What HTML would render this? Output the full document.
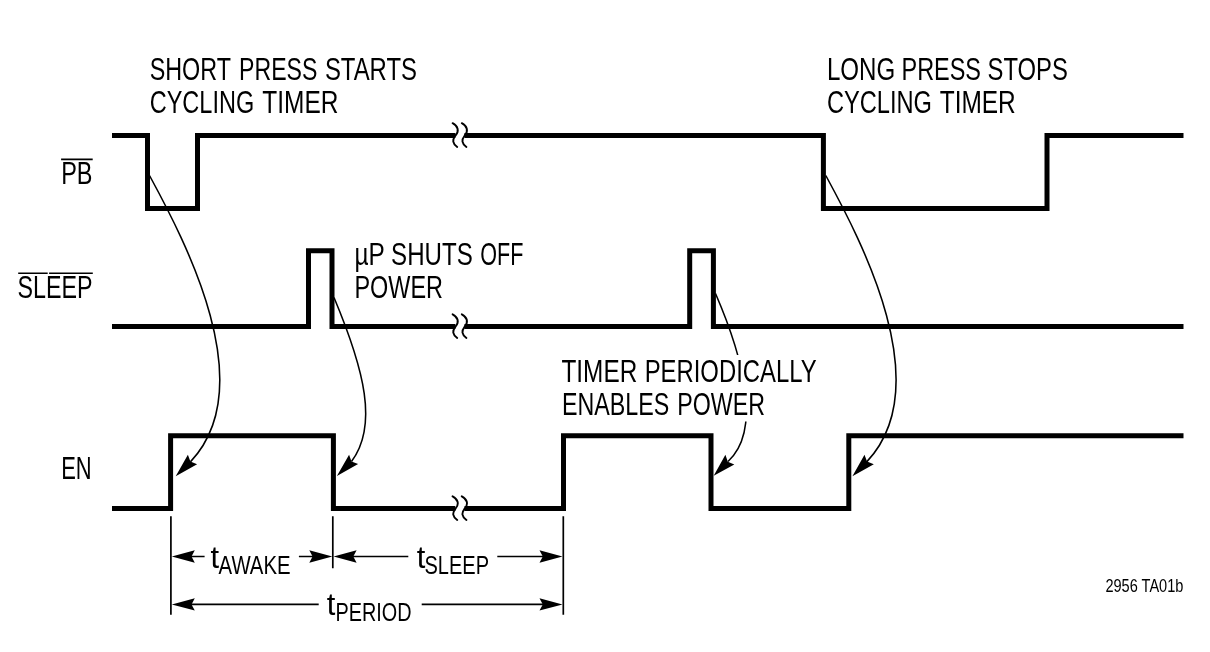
<!DOCTYPE html>
<html><head><meta charset="utf-8">
<style>
html,body{margin:0;padding:0;background:#fff;overflow:hidden;}
svg{display:block;}
text{font-family:"Liberation Sans",sans-serif;fill:#000;stroke:#fff;stroke-width:0px;}
</style></head>
<body>
<svg width="1210" height="652" viewBox="0 0 1210 652">
<rect width="1210" height="652" fill="#fff"/>
<g fill="none" stroke="#000" stroke-width="5" stroke-linejoin="miter" stroke-linecap="butt">
<path d="M112,135.5 H147.5 V208.5 H197.5 V135.5 H455.3"/>
<path d="M464.5,135.5 H823.4 V208.5 H1047 V135.5 H1183.5"/>
<path d="M112,326.6 H308.5 V250.7 H332 V326.6 H455.3"/>
<path d="M464.5,326.6 H689.7 V250.7 H713.4 V326.6 H1183.5"/>
<path d="M112,508.6 H170.6 V435.8 H333.4 V508.6 H455.3"/>
<path d="M464.5,508.6 H563.5 V435.8 H711.0 V508.6 H848.8 V435.8 H1183.5"/>
</g>
<g fill="none" stroke="#000" stroke-width="1.9" stroke-linecap="round"><path d="M452.60,123.20 C458.00,126.00 459.50,131.00 455.50,135.50 C452.00,140.00 452.50,143.50 457.20,146.90"/><path d="M461.80,123.20 C467.20,126.00 468.70,131.00 464.70,135.50 C461.20,140.00 461.70,143.50 466.40,146.90"/><path d="M452.60,314.30 C458.00,317.10 459.50,322.10 455.50,326.60 C452.00,331.10 452.50,334.60 457.20,338.00"/><path d="M461.80,314.30 C467.20,317.10 468.70,322.10 464.70,326.60 C461.20,331.10 461.70,334.60 466.40,338.00"/><path d="M452.60,496.30 C458.00,499.10 459.50,504.10 455.50,508.60 C452.00,513.10 452.50,516.60 457.20,520.00"/><path d="M461.80,496.30 C467.20,499.10 468.70,504.10 464.70,508.60 C461.20,513.10 461.70,516.60 466.40,520.00"/></g>
<g fill="none" stroke="#000" stroke-width="1.55"><path d="M149.5,175.5 C185.50,241.8 261.60,386.3 190.40,461.9"/><path d="M334.0,297.5 C364.50,370.2 378.20,425.7 351.50,461.5"/><path d="M715.5,293.5 C743.10,357.3 762.30,430.1 728.00,461.5"/><path d="M825.8,175.5 C861.80,241.8 937.90,386.3 866.70,461.9"/></g>
<g fill="#000"><path d="M175.70,476.19 L187.89,454.79 L190.38,461.61 L197.11,464.21 Z"/><path d="M336.90,476.09 L349.09,454.78 L351.49,461.55 L358.11,464.12 Z"/><path d="M713.71,475.80 L725.40,454.78 L727.82,461.64 L734.30,464.42 Z"/><path d="M852.40,476.19 L864.49,454.79 L867.04,461.61 L873.81,464.21 Z"/></g>
<g fill="none" stroke="#000" stroke-width="1.7">
<path d="M170.9,516.3 V614.8 M332.8,516.3 V568.3 M563.3,516.3 V614.8"/>
</g><g fill="none" stroke="#000" stroke-width="1.6">
<path d="M190,556.5 H204.6 M298.9,556.5 H314 M352,556.5 H408.3 M497.3,556.5 H545"/>
<path d="M190,604.4 H318.7 M421.7,604.4 H545"/>
<path d="M61.1,159.4 H92.7 M18.2,273.3 H47.7 M49.1,273.3 H92.8"/></g>
<g fill="#000"><path d="M171.80,556.50 L194.80,550.30 L191.50,556.50 L194.80,562.70 Z"/><path d="M332.30,556.50 L309.30,562.70 L312.60,556.50 L309.30,550.30 Z"/><path d="M333.60,556.50 L356.60,550.30 L353.30,556.50 L356.60,562.70 Z"/><path d="M562.50,556.50 L539.50,562.70 L542.80,556.50 L539.50,550.30 Z"/><path d="M171.80,604.40 L194.80,598.20 L191.50,604.40 L194.80,610.60 Z"/><path d="M562.50,604.40 L539.50,610.60 L542.80,604.40 L539.50,598.20 Z"/></g>
<rect x="733" y="355" width="16" height="66.5" fill="#fff"/>
<g style="will-change:transform"><text x="149.7" y="80" font-size="31" textLength="81.3" lengthAdjust="spacingAndGlyphs">SHORT</text><text x="239.1" y="80" font-size="31" textLength="78.3" lengthAdjust="spacingAndGlyphs">PRESS</text><text x="324.9" y="80" font-size="31" textLength="92.1" lengthAdjust="spacingAndGlyphs">STARTS</text><text x="149.7" y="112.9" font-size="31" textLength="104.5" lengthAdjust="spacingAndGlyphs">CYCLING</text><text x="262.3" y="112.9" font-size="31" textLength="76.1" lengthAdjust="spacingAndGlyphs">TIMER</text><text x="826.9" y="80" font-size="31" textLength="68.3" lengthAdjust="spacingAndGlyphs">LONG</text><text x="901.5" y="80" font-size="31" textLength="79.5" lengthAdjust="spacingAndGlyphs">PRESS</text><text x="987.5" y="80" font-size="31" textLength="80.3" lengthAdjust="spacingAndGlyphs">STOPS</text><text x="826.9" y="112.9" font-size="31" textLength="105.1" lengthAdjust="spacingAndGlyphs">CYCLING</text><text x="939.7" y="112.9" font-size="31" textLength="76.1" lengthAdjust="spacingAndGlyphs">TIMER</text><text x="354.5" y="264.8" font-size="31" textLength="30.3" lengthAdjust="spacingAndGlyphs">µP</text><text x="391.1" y="264.8" font-size="31" textLength="81.7" lengthAdjust="spacingAndGlyphs">SHUTS</text><text x="480.3" y="264.8" font-size="31" textLength="43.1" lengthAdjust="spacingAndGlyphs">OFF</text><text x="354.5" y="297.8" font-size="31" textLength="88.5" lengthAdjust="spacingAndGlyphs">POWER</text><text x="561.5" y="382.3" font-size="31" textLength="75.7" lengthAdjust="spacingAndGlyphs">TIMER</text><text x="644.7" y="382.3" font-size="31" textLength="171.9" lengthAdjust="spacingAndGlyphs">PERIODICALLY</text><text x="561.9" y="414.8" font-size="31" textLength="107.3" lengthAdjust="spacingAndGlyphs">ENABLES</text><text x="677.3" y="414.8" font-size="31" textLength="87.7" lengthAdjust="spacingAndGlyphs">POWER</text><text x="61.2" y="183.8" font-size="31" textLength="31.3" lengthAdjust="spacingAndGlyphs">PB</text><text x="17.6" y="297.5" font-size="31" textLength="75" lengthAdjust="spacingAndGlyphs">SLEEP</text><text x="61.2" y="478.9" font-size="31" textLength="30.5" lengthAdjust="spacingAndGlyphs">EN</text><text x="1105.4" y="591.8" font-size="18.5" textLength="78" lengthAdjust="spacingAndGlyphs">2956 TA01b</text><text x="210.6" y="567.7" font-size="31" textLength="8.6" lengthAdjust="spacingAndGlyphs">t</text><text x="218.6" y="573.8" font-size="26.7" textLength="72" lengthAdjust="spacingAndGlyphs">AWAKE</text><text x="416.8" y="567.7" font-size="31" textLength="8.6" lengthAdjust="spacingAndGlyphs">t</text><text x="424.5" y="573.8" font-size="26.7" textLength="64.5" lengthAdjust="spacingAndGlyphs">SLEEP</text><text x="326.7" y="614.7" font-size="31" textLength="8.6" lengthAdjust="spacingAndGlyphs">t</text><text x="335.6" y="621.1" font-size="26.7" textLength="76" lengthAdjust="spacingAndGlyphs">PERIOD</text></g>
</svg>
</body></html>
